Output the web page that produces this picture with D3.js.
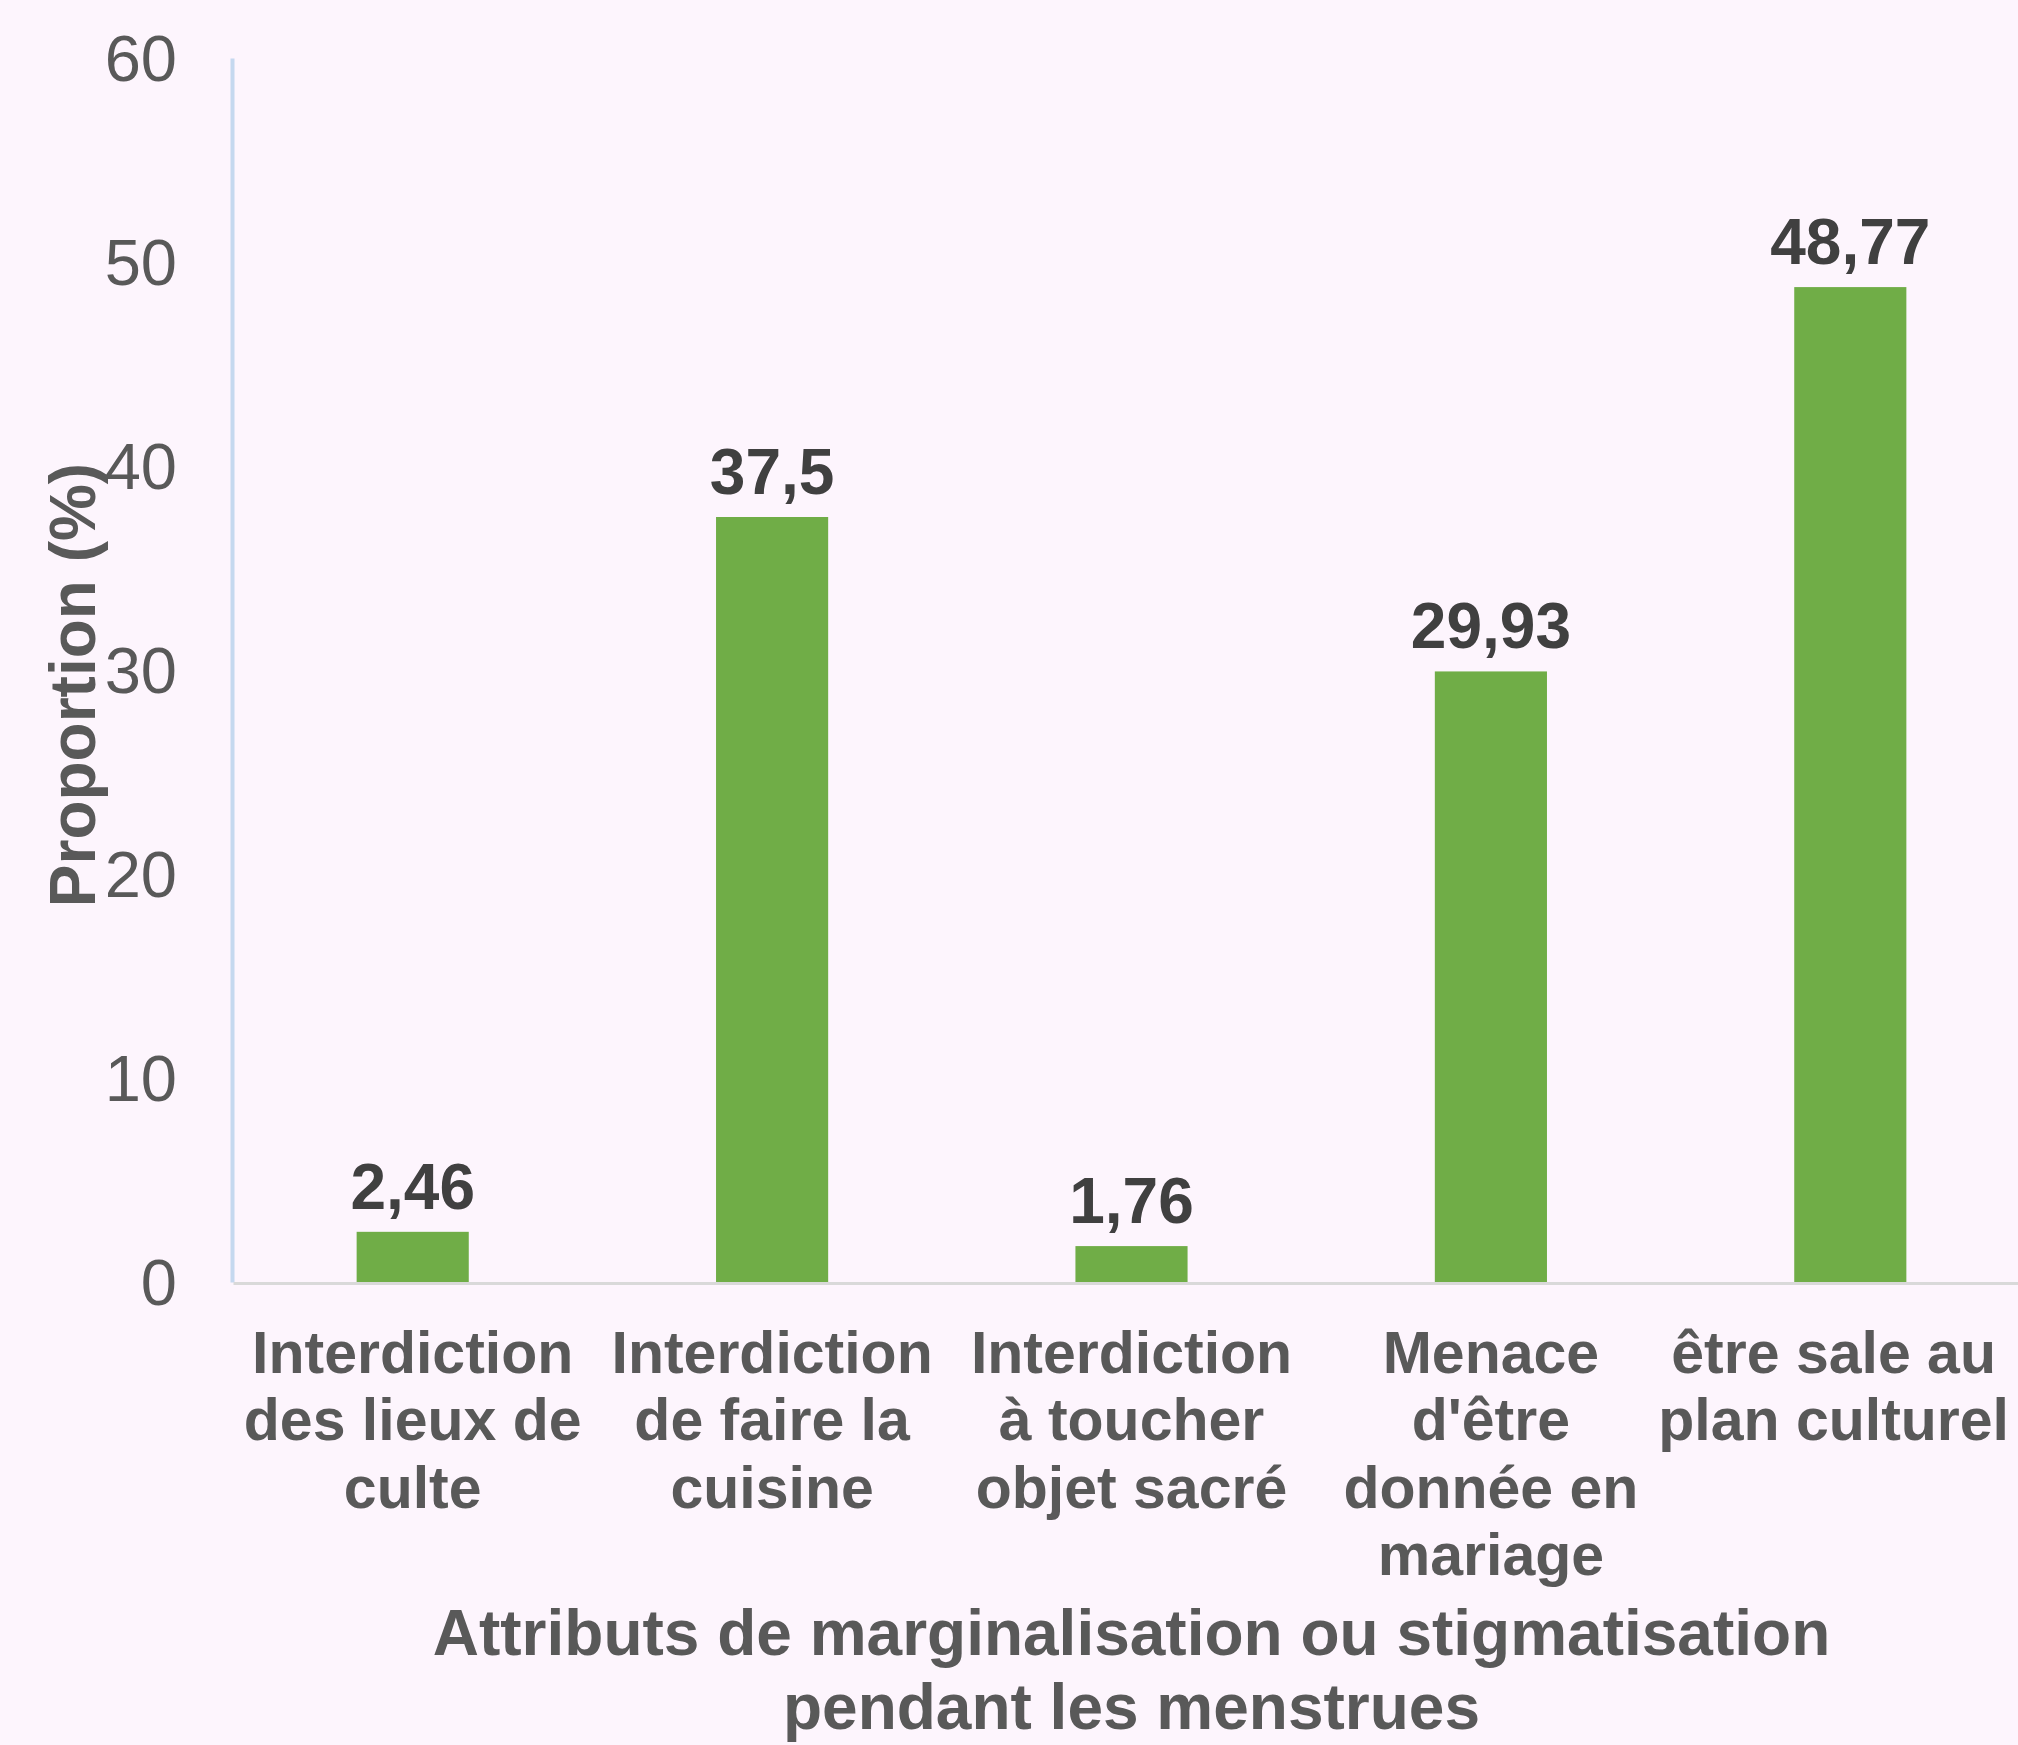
<!DOCTYPE html>
<html>
<head>
<meta charset="utf-8">
<script src="https://cdnjs.cloudflare.com/ajax/libs/d3/7.8.5/d3.min.js"></script>
<style>
  html, body { margin: 0; padding: 0; background: #fdf5fd; }
  svg { display: block; }
</style>
</head>
<body>
<div id="chart"></div>
<script>
// ---- Data ----
const categories = [
  ["Interdiction", "des lieux de", "culte"],
  ["Interdiction", "de faire la", "cuisine"],
  ["Interdiction", "à toucher", "objet sacré"],
  ["Menace", "d'être", "donnée en", "mariage"],
  ["être sale au", "plan culturel"]
];
const values = [2.46, 37.5, 1.76, 29.93, 48.77];
const valueLabels = ["2,46", "37,5", "1,76", "29,93", "48,77"];
const yTicks = [0, 10, 20, 30, 40, 50, 60];
const yTitle = "Proportion (%)";
const xTitle = ["Attributs de marginalisation ou stigmatisation", "pendant les menstrues"];

// ---- Layout ----
const W = 2018, H = 1745;
const FONT = "'Liberation Sans', Arial, Helvetica, sans-serif";

const svg = d3.select("#chart").append("svg")
  .attr("width", W).attr("height", H)
  .style("background", "#fdf5fd");

const idx = values.map((d, i) => i);

const x = d3.scaleBand()
  .domain(idx)
  .range([233, 2030])
  .paddingInner(0.688)
  .paddingOuter(0.344);

const y = d3.scaleLinear().domain([0, 60]).range([1282, 58]);

// Y axis
const yAxis = svg.append("g")
  .attr("transform", "translate(232,0)")
  .call(d3.axisLeft(y).tickValues(yTicks).tickSize(0).tickPadding(55).tickFormat(d3.format("d")));
yAxis.select(".domain").attr("stroke", "#c5d8ef").attr("stroke-width", 4);
yAxis.selectAll("text")
  .attr("font-family", FONT).attr("font-size", 65).attr("fill", "#595959")
  .attr("dy", "0.35em");

// X axis
const xAxis = svg.append("g")
  .attr("transform", "translate(0,1283)")
  .call(d3.axisBottom(x).tickSize(0).tickFormat(""));
xAxis.select(".domain").attr("stroke", "#d9d9d9").attr("stroke-width", 3);

// Bars
svg.append("g").selectAll("rect")
  .data(values)
  .join("rect")
  .attr("x", (d, i) => x(i))
  .attr("width", x.bandwidth())
  .attr("y", d => y(d))
  .attr("height", d => y(0) - y(d))
  .attr("fill", "#70ad47");

// Value labels
svg.append("g").selectAll("text")
  .data(values)
  .join("text")
  .attr("x", (d, i) => x(i) + x.bandwidth() / 2)
  .attr("y", d => y(d) - 23)
  .attr("text-anchor", "middle")
  .attr("font-family", FONT).attr("font-weight", "bold")
  .attr("font-size", 64).attr("fill", "#404040")
  .text((d, i) => valueLabels[i]);

// Category labels
const catG = svg.append("g");
categories.forEach((lines, i) => {
  const cx = x(i) + x.bandwidth() / 2;
  const t = catG.append("text")
    .attr("text-anchor", "middle")
    .attr("font-family", FONT).attr("font-weight", "bold")
    .attr("font-size", 59).attr("fill", "#595959");
  lines.forEach((ln, j) => {
    t.append("tspan").attr("x", cx).attr("y", 1373 + j * 67.3).text(ln);
  });
  // keep label inside the canvas
  const bb = t.node().getBBox();
  const over = bb.x + bb.width - (W - 9);
  if (over > 0) t.selectAll("tspan").attr("x", cx - over);
});

// Axis titles
const xt = svg.append("text")
  .attr("text-anchor", "middle")
  .attr("font-family", FONT).attr("font-weight", "bold")
  .attr("font-size", 64).attr("fill", "#595959");
xTitle.forEach((ln, j) => {
  xt.append("tspan").attr("x", (233 + 2030) / 2).attr("y", 1655 + j * 74).text(ln);
});

svg.append("text")
  .attr("transform", "translate(95,685) rotate(-90)")
  .attr("text-anchor", "middle")
  .attr("font-family", FONT).attr("font-weight", "bold")
  .attr("font-size", 64).attr("fill", "#595959")
  .text(yTitle);
</script>
</body>
</html>
